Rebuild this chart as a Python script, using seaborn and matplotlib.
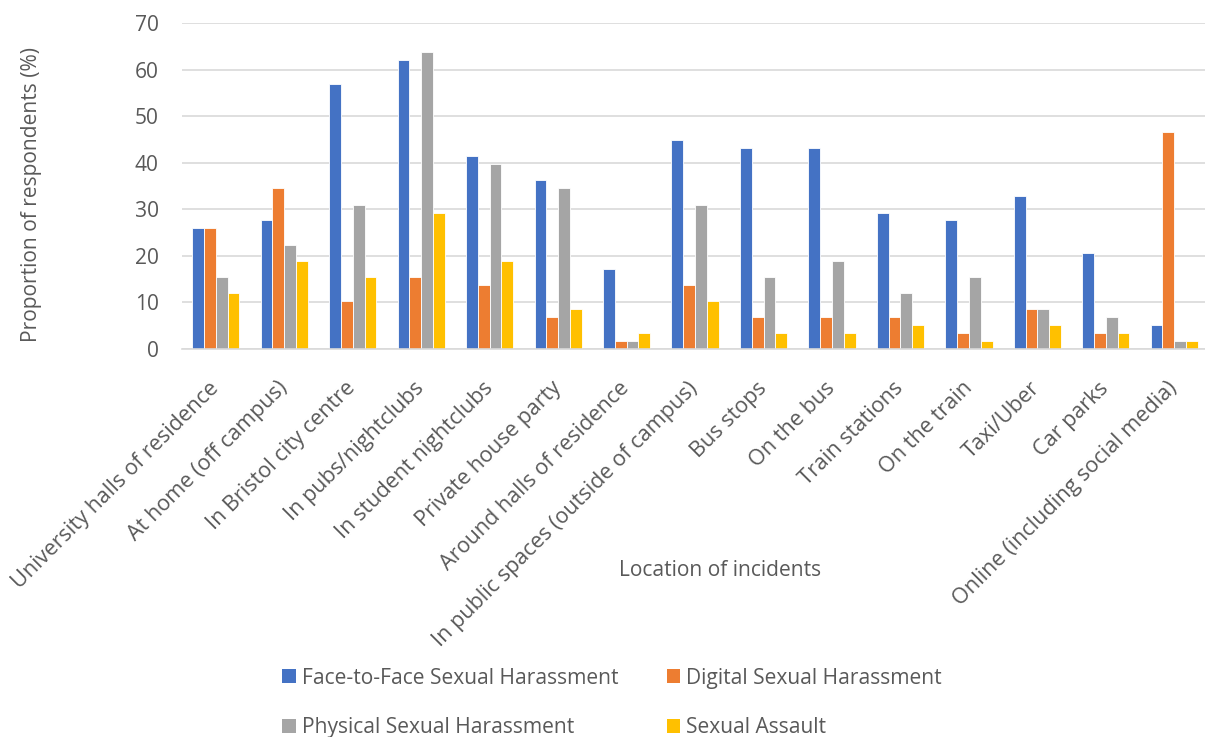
import matplotlib
matplotlib.use("Agg")
import matplotlib.pyplot as plt
import seaborn as sns
import pandas as pd
from matplotlib.patches import Patch

locations = [
    "University halls of residence", "At home (off campus)", "In Bristol city centre",
    "In pubs/nightclubs", "In student nightclubs", "Private house party",
    "Around halls of residence", "In public spaces (outside of campus)", "Bus stops",
    "On the bus", "Train stations", "On the train", "Taxi/Uber", "Car parks",
    "Online (including social media)",
]
series = ["Face-to-Face Sexual Harassment", "Digital Sexual Harassment",
          "Physical Sexual Harassment", "Sexual Assault"]

face_to_face = [25.9, 27.6, 56.9, 62.1, 41.4, 36.2, 17.2, 44.8, 43.1, 43.1, 29.3, 27.6, 32.8, 20.7, 5.2]
digital      = [25.9, 34.5, 10.3, 15.5, 13.8, 6.9, 1.7, 13.8, 6.9, 6.9, 6.9, 3.4, 8.6, 3.4, 46.6]
physical     = [15.5, 22.4, 31.0, 63.8, 39.7, 34.5, 1.7, 31.0, 15.5, 19.0, 12.1, 15.5, 8.6, 6.9, 1.7]
assault      = [12.1, 19.0, 15.5, 29.3, 19.0, 8.6, 3.4, 10.3, 3.4, 3.4, 5.2, 1.7, 5.2, 3.4, 1.7]

colors = ["#4472C4", "#ED7D31", "#A5A5A5", "#FFC000"]

rows = []
for s, vals in zip(series, [face_to_face, digital, physical, assault]):
    for loc, v in zip(locations, vals):
        rows.append({"Location": loc, "Series": s, "Value": v})
df = pd.DataFrame(rows)

sns.set_theme(style="white")
plt.rcParams["font.family"] = ["Open Sans", "DejaVu Sans"]
text_color = "#595959"
fs = 15.1

W, H = 1205, 737
fig = plt.figure(figsize=(W / 100, H / 100), dpi=100)
left, right, top, bottom = 181.6, 1208.5, 23, 349
ax = fig.add_axes([left / W, 1 - bottom / H, (right - left) / W, (bottom - top) / H])

sns.barplot(data=df, x="Location", y="Value", hue="Series", hue_order=series,
            order=locations, palette=colors, saturation=1, width=0.69, gap=0,
            edgecolor="white", linewidth=0.6, ax=ax, errorbar=None)

ax.set_ylim(0, 70)
ax.set_yticks(range(0, 71, 10))
ax.set_xlim(-0.5, len(locations) - 0.5)
ax.yaxis.grid(True, color="#D9D9D9", linewidth=1.2)
ax.set_axisbelow(True)
for sp in ["top", "right", "left"]:
    ax.spines[sp].set_visible(False)
ax.spines["bottom"].set_color("#D9D9D9")
ax.spines["bottom"].set_linewidth(1.2)
ax.tick_params(axis="both", length=0, colors=text_color, labelsize=fs)
ax.tick_params(axis="y", pad=16.5)
ax.set_xticks(range(len(locations)))
ax.set_xticklabels(locations, rotation=45, ha="right", va="center", rotation_mode="anchor",
                   fontsize=15.6)
ax.tick_params(axis="x", pad=26)

ax.set_xlabel("")
ax.set_ylabel("")
fig.text(720 / W, 1 - 570 / H, "Location of incidents", ha="center", va="center",
         fontsize=fs, color=text_color)
fig.text(32 / W, 1 - 195 / H, "Proportion of respondents (%)", ha="center", va="center",
         rotation=90, fontsize=fs, color=text_color)

if ax.get_legend() is not None:
    ax.get_legend().remove()

handles = [Patch(facecolor=c, edgecolor="none") for c in colors]
order = [0, 2, 1, 3]
fig.legend([handles[i] for i in order], [series[i] for i in order], ncol=2,
           loc="center", bbox_to_anchor=(612 / W, 1 - 703 / H), frameon=False,
           fontsize=fs, labelcolor=text_color, handlelength=0.65, handleheight=0.65,
           handletextpad=0.3, columnspacing=2.3, labelspacing=1.35, borderpad=0,
           borderaxespad=0)

fig.savefig("out.png", dpi=100)
